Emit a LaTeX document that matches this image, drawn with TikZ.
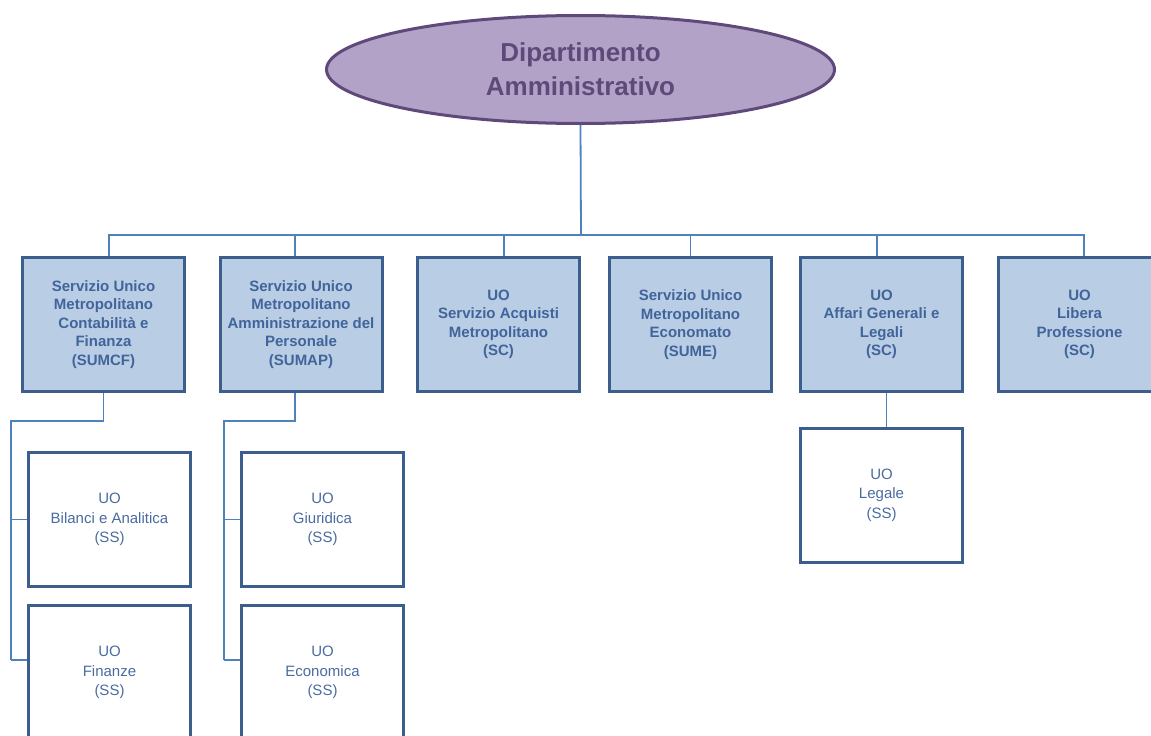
\documentclass[tikz,border=0pt]{standalone}
\usepackage{fontspec}
\setmainfont{Liberation Sans}
\usetikzlibrary{shapes.geometric,positioning}
\definecolor{deptfill}{HTML}{B3A2C7}
\definecolor{deptline}{HTML}{5F497A}
\definecolor{boxfill}{HTML}{B9CDE5}
\definecolor{boxline}{HTML}{3B5E8C}
\definecolor{boxtext}{HTML}{41649A}
\definecolor{subtext}{HTML}{4A6CA0}
\definecolor{linkcol}{HTML}{4F81BD}
\tikzset{
	dept/.style={ellipse,draw=deptline,fill=deptfill,line width=3pt,minimum width=508pt,minimum height=108pt,align=center,text=deptline,font=\bfseries\fontsize{26}{34}\selectfont},
	box/.style={draw=boxline,fill=boxfill,line width=3pt,minimum width=162pt,minimum height=134pt,align=center,text=boxtext,font=\bfseries\fontsize{15}{18.5}\selectfont},
	subbox/.style={box,fill=white,text=subtext,font=\fontsize{15}{19.5}\selectfont},
	link/.style={draw=linkcol,line width=1.8pt}
}
\begin{document}
\begin{tikzpicture}[x=1pt,y=-1pt]
	\useasboundingbox (0,0) rectangle (1151,736);

	\node[dept] (dip) at (580.5, 69.5) {Dipartimento\\Amministrativo};

	\node[coordinate] (hub) at (581, 235) {};

	\node[box] (b1) at (103.5, 324.5) {Servizio Unico\\Metropolitano\\Contabilità e\\Finanza\\(SUMCF)};
	\node[box] (b2) at (301, 324.5) {Servizio Unico\\Metropolitano\\Amministrazione del\\Personale\\(SUMAP)};
	\node[box] (b3) at (498.5, 324.5) {UO\\Servizio Acquisti\\Metropolitano\\(SC)};
	\node[box] (b4) at (690.5, 324.5) {Servizio Unico\\Metropolitano\\Economato\\(SUME)};
	\node[box] (b5) at (881.5, 324.5) {UO\\Affari Generali e\\Legali\\(SC)};
	\node[box] (b6) at (1079.5, 324.5) {UO\\Libera\\Professione\\(SC)};

	\node[coordinate] (k1) at (11, 421) {};
	\node[coordinate] (k2) at (11, 660) {};
	\node[coordinate] (k3) at (224, 421) {};
	\node[coordinate] (k4) at (224, 660) {};

	\node[subbox] (s1) at (109.5, 519.5) {UO\\Bilanci e Analitica\\(SS)};
	\node[subbox] (s2) at (109.5, 672.5) {UO\\Finanze\\(SS)};
	\node[subbox] (s3) at (322.5, 519.5) {UO\\Giuridica\\(SS)};
	\node[subbox] (s4) at (322.5, 672.5) {UO\\Economica\\(SS)};
	\node[subbox] (s5) at (881.5, 495) {UO\\Legale\\(SS)};

	\draw[link] (dip.south) -- (hub);
	\draw[link] (hub) -| ([xshift=5.5pt]b1.north);
	\draw[link] (hub) -| ([xshift=-6pt]b2.north);
	\draw[link] (hub) -| ([xshift=5.5pt]b3.north);
	\draw[link] (hub) -| (b4.north);
	\draw[link] (hub) -| ([xshift=-4.5pt]b5.north);
	\draw[link] (hub) -| ([xshift=4.5pt]b6.north);

	\draw[link] (b1.south) |- (k1) -- (k2);
	\draw[link] (k1 |- s1.west) -- (s1.west);
	\draw[link] (k2) -- (k2 -| s2.west);
	\draw[link] ([xshift=-6pt]b2.south) |- (k3) -- (k4);
	\draw[link] (k3 |- s3.west) -- (s3.west);
	\draw[link] (k4) -- (k4 -| s4.west);
	\draw[link] ([xshift=5pt]b5.south) -- ([xshift=5pt]s5.north);
\end{tikzpicture}
\end{document}
